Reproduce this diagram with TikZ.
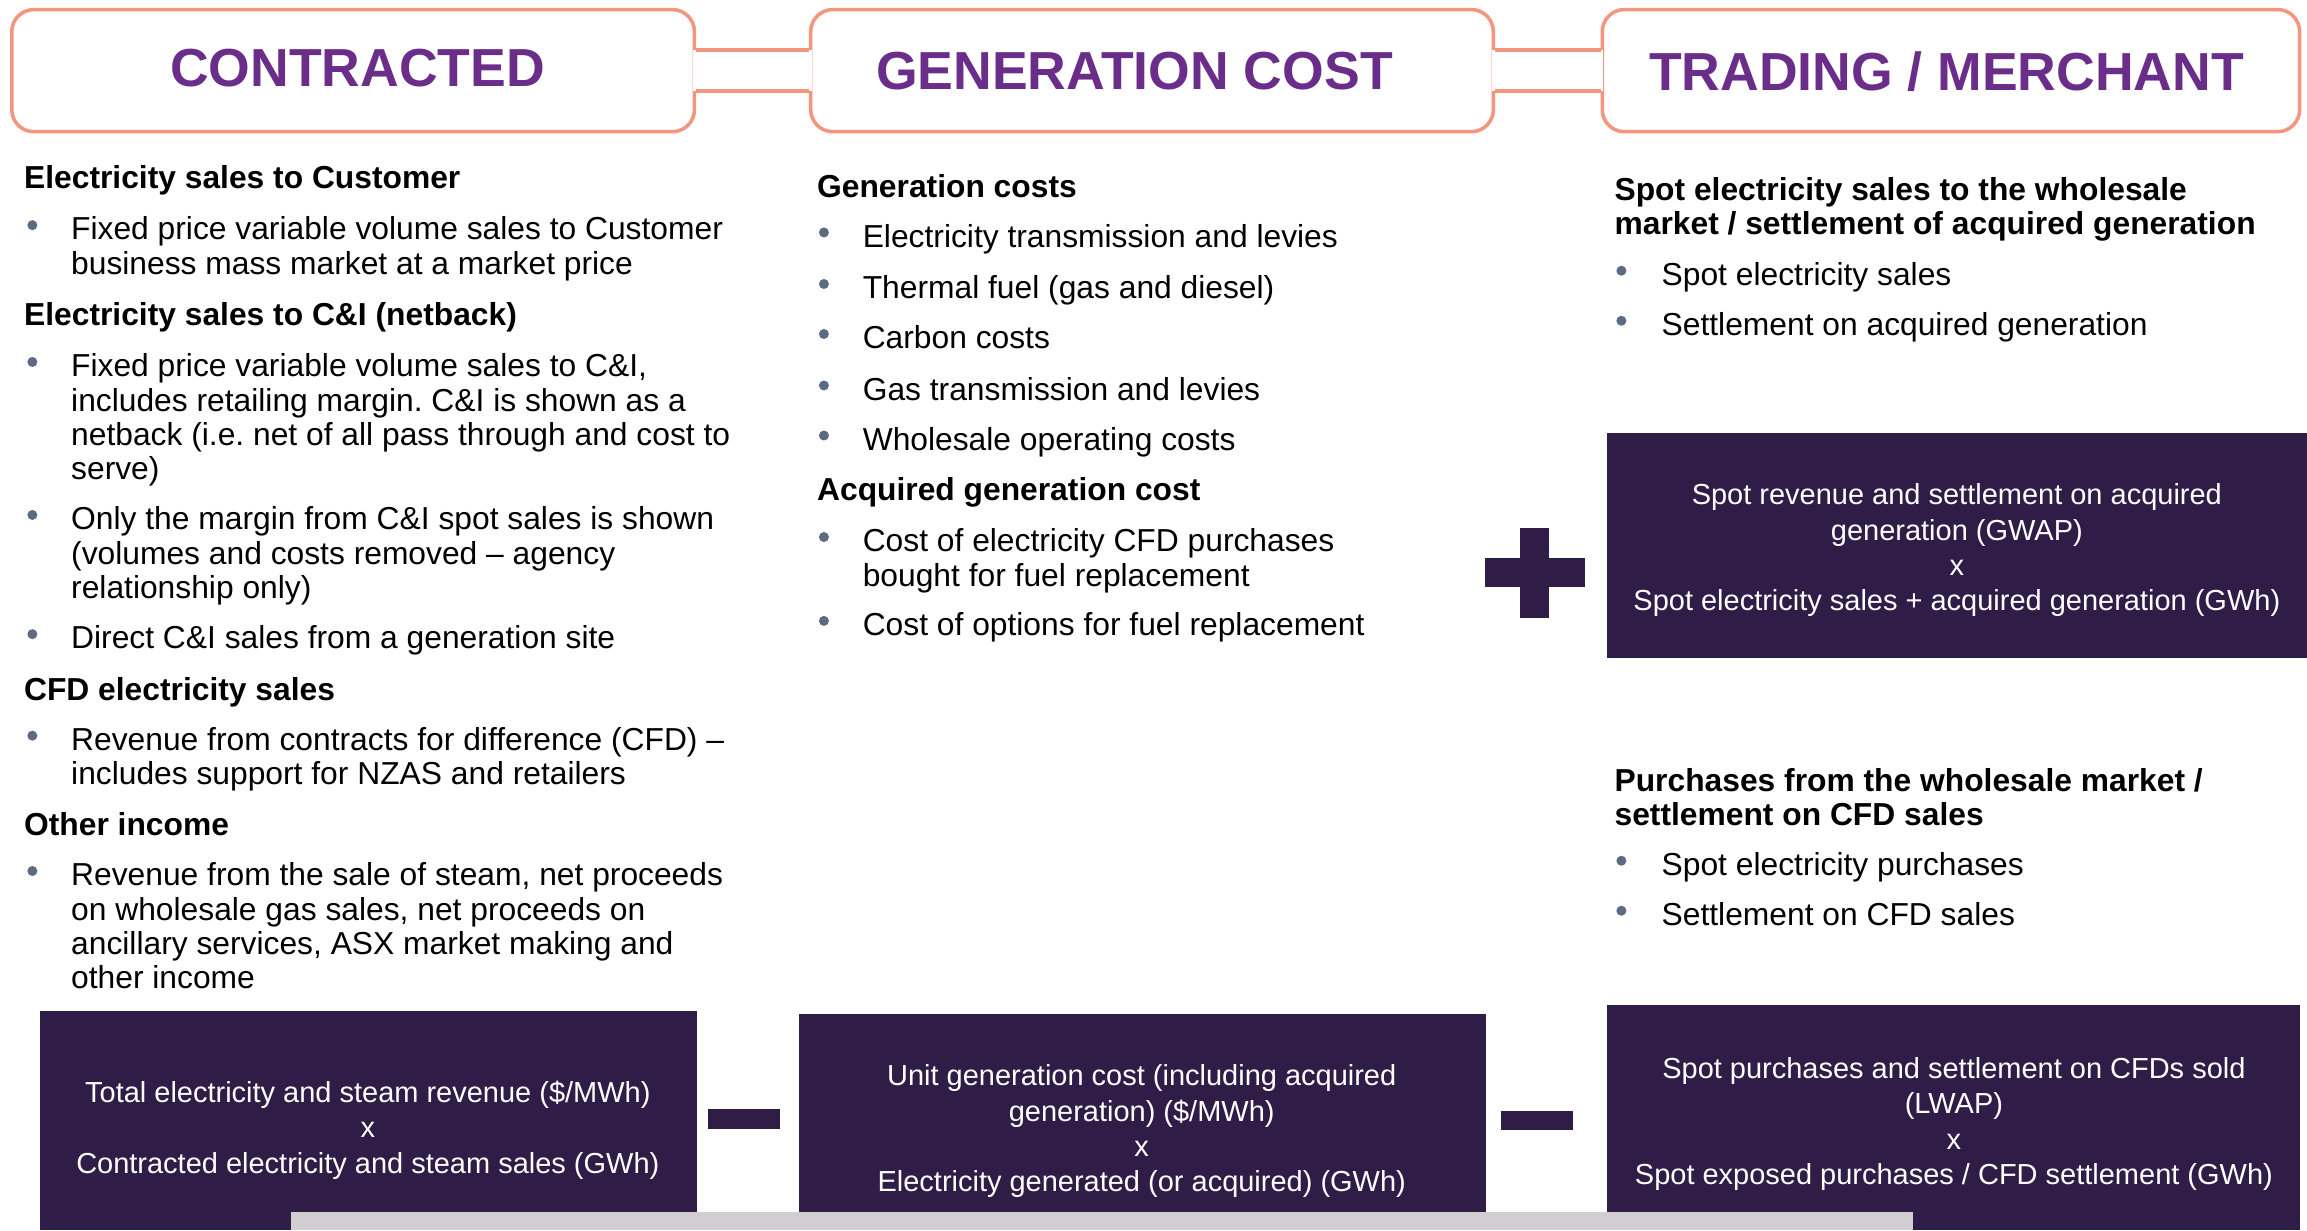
\documentclass[tikz,border=0pt]{standalone}
\usepackage{fontspec}
\setmainfont{Liberation Sans}
\usetikzlibrary{positioning}
\frenchspacing

\definecolor{hdrline}{HTML}{F3957F}
\definecolor{hdrtext}{HTML}{6B2D8A}
\definecolor{darkbox}{HTML}{2F1C47}
\definecolor{greybar}{HTML}{D0CED0}
\definecolor{bulletcol}{HTML}{5C6B82}

\begin{document}
\begin{tikzpicture}[x=0.5pt,y=-0.5pt,
  headbox/.style={draw=hdrline,line width=1.2pt,rounded corners=7.5pt,fill=white,minimum height=41.5pt,inner sep=0pt},
  headtext/.style={text=hdrtext,inner sep=0pt,font=\fontsize{18.2}{22}\selectfont\bfseries},
  bridge/.style={draw=hdrline,line width=1.2pt},
  body/.style={anchor=north west,inner sep=0pt,align=left,font=\fontsize{10.8}{11.65}\selectfont},
  bodyhead/.style={body,font=\fontsize{10.8}{11.65}\selectfont\bfseries},
  bdot/.style={circle,fill=bulletcol,inner sep=0pt,minimum size=3.4pt},
  boxtext/.style={text=white,align=center,inner sep=0pt,font=\fontsize{9.85}{12}\selectfont}]

  \useasboundingbox (0,0) rectangle (1568,836);

  % header boxes
  \node[headbox,minimum width=232pt] (contracted) at (240,48) {};
  \node[headbox,minimum width=232pt] (gencost) at (783,48) {};
  \node[headbox,minimum width=237pt] (trading) at (1326,48) {};
  \node[headtext] (t1) at (243,46) {CONTRACTED};
  \node[headtext] (t2) at (771,48) {GENERATION COST};
  \node[headtext] (t3) at (1323,49) {TRADING / MERCHANT};

  \fill[white] ([xshift=-1pt,yshift=7pt]contracted.east) rectangle ([xshift=1pt,yshift=-7pt]gencost.west);
  \fill[white] ([xshift=-1pt,yshift=7pt]gencost.east) rectangle ([xshift=1pt,yshift=-7pt]trading.west);
  \draw[bridge] ([yshift=7pt]contracted.east) -- ([yshift=7pt]gencost.west);
  \draw[bridge] ([yshift=-7pt]contracted.east) -- ([yshift=-7pt]gencost.west);
  \draw[bridge] ([yshift=7pt]gencost.east) -- ([yshift=7pt]trading.west);
  \draw[bridge] ([yshift=-7pt]gencost.east) -- ([yshift=-7pt]trading.west);

  % contracted column
  \node[bodyhead] (h1) at (16,112) {Electricity sales to Customer};
  \node[bdot] (d1) at (22,153) {};
  \node[body] (b1) at (48,147) {Fixed price variable volume sales to Customer\\business mass market at a market price};
  \node[bodyhead] (h2) at (16,205) {Electricity sales to C\&I (netback)};
  \node[bdot] (d2) at (22,246) {};
  \node[body] (b2) at (48,240) {Fixed price variable volume sales to C\&I,\\includes retailing margin. C\&I is shown as a\\netback (i.e. net of all pass through and cost to\\serve)};
  \node[bdot] (d3) at (22,350) {};
  \node[body] (b3) at (48,344) {Only the margin from C\&I spot sales is shown\\(volumes and costs removed -- agency\\relationship only)};
  \node[bdot] (d4) at (22,431) {};
  \node[body] (b4) at (48,425) {Direct C\&I sales from a generation site};
  \node[bodyhead] (h3) at (16,460) {CFD electricity sales};
  \node[bdot] (d5) at (22,500) {};
  \node[body] (b5) at (48,494) {Revenue from contracts for difference (CFD) --\\includes support for NZAS and retailers};
  \node[bodyhead] (h4) at (16,552) {Other income};
  \node[bdot] (d6) at (22,592) {};
  \node[body] (b6) at (48,586) {Revenue from the sale of steam, net proceeds\\on wholesale gas sales, net proceeds on\\ancillary services, ASX market making and\\other income};

  % generation cost column
  \node[bodyhead] (gh1) at (555,118) {Generation costs};
  \foreach \y/\t [count=\i] in {152/Electricity transmission and levies, 187/Thermal fuel (gas and diesel),
      221/Carbon costs, 256/Gas transmission and levies, 290/Wholesale operating costs}
  {
    \node[bdot] (gd\i) at (560,\y+6) {};
    \node[body] (gc\i) at (586,\y) {\t};
  }
  \node[bodyhead] (gh2) at (555,324) {Acquired generation cost};
  \node[bdot] (gd6) at (560,365) {};
  \node[body] (gc6) at (586,359) {Cost of electricity CFD purchases\\bought for fuel replacement};
  \node[bdot] (gd7) at (560,422) {};
  \node[body] (gc7) at (586,416) {Cost of options for fuel replacement};

  % trading column
  \node[bodyhead] (th1) at (1097,120) {Spot electricity sales to the wholesale\\market / settlement of acquired generation};
  \node[bdot] (td1) at (1102,184) {};
  \node[body] (tc1) at (1129,178) {Spot electricity sales};
  \node[bdot] (td2) at (1102,218) {};
  \node[body] (tc2) at (1129,212) {Settlement on acquired generation};
  \node[bodyhead] (th2) at (1097,522) {Purchases from the wholesale market /\\settlement on CFD sales};
  \node[bdot] (td3) at (1102,585) {};
  \node[body] (tc3) at (1129,579) {Spot electricity purchases};
  \node[bdot] (td4) at (1102,619) {};
  \node[body] (tc4) at (1129,613) {Settlement on CFD sales};

  % formula boxes
  \fill[darkbox] (1092,294) rectangle (1568,447);
  \fill[darkbox] (1009,379) rectangle (1077,399);
  \fill[darkbox] (1033,359) rectangle (1053,420);
  \fill[darkbox] (27,687) rectangle (474,836);
  \fill[darkbox] (481,754) rectangle (530,767);
  \fill[darkbox] (543,689) rectangle (1010,836);
  \fill[darkbox] (1020,755) rectangle (1069,768);
  \fill[darkbox] (1092,683) rectangle (1563,836);
  \fill[greybar] (198,824) rectangle (1300,836);

  \node[boxtext] (spotrev) at (1330,374) {Spot revenue and settlement on acquired\\generation (GWAP)\\x\\Spot electricity sales + acquired generation (GWh)};
  \node[boxtext] (totrev) at (250,768) {Total electricity and steam revenue (\$/MWh)\\x\\Contracted electricity and steam sales (GWh)};
  \node[boxtext] (unitcost) at (776,769) {Unit generation cost (including acquired\\generation) (\$/MWh)\\x\\Electricity generated (or acquired) (GWh)};
  \node[boxtext] (spotpur) at (1328,764) {Spot purchases and settlement on CFDs sold\\(LWAP)\\x\\Spot exposed purchases / CFD settlement (GWh)};

\end{tikzpicture}
\end{document}
